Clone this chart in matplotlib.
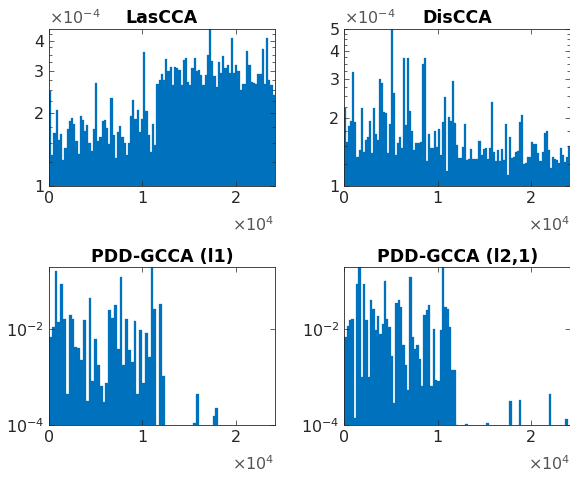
import numpy as np
import matplotlib
matplotlib.use("Agg")
import matplotlib.pyplot as plt
from matplotlib.ticker import FixedLocator, NullLocator, NullFormatter

# ---- data ----
titles = ["LasCCA", "DisCCA", "PDD-GCCA (l1)", "PDD-GCCA (l2,1)"]

# top panels in units of 1e-4
lascca = [2.48, 1.34, 1.65, 2.06, 1.55, 1.64, 1.28, 1.44, 1.72, 1.85, 1.92, 1.80, 1.53,
          1.36, 1.95, 1.88, 1.68, 1.79, 1.51, 1.39, 1.72, 2.68, 1.53, 1.60, 1.86, 1.88,
          1.73, 1.49, 2.31, 1.63, 1.30, 1.67, 1.77, 1.60,
          1.50, 1.34, 1.51, 1.95, 2.27, 1.89, 2.06, 1.67, 1.89, 3.59, 2.04, 1.63, 1.38,
          1.81, 1.48, 2.64, 2.75, 2.90, 2.75, 3.36, 2.98, 3.10, 2.62, 3.10, 3.08, 3.02,
          2.62, 3.33, 3.39, 2.70, 2.62, 3.08, 3.39,
          2.98, 3.03, 2.89, 2.62, 2.89, 3.49, 4.50, 3.28, 2.84, 2.58, 3.26, 2.93, 3.47,
          3.08, 3.18, 2.93, 4.10, 2.93, 3.18, 2.98, 2.50, 2.64, 2.64, 3.63, 3.18, 2.69,
          2.67, 2.64, 2.90, 2.90, 3.70, 2.64, 4.10, 2.75, 2.62, 2.38]

discca = [2.23, 1.57, 1.85, 1.94, 3.20, 1.93, 1.35, 1.44, 2.21, 1.42, 1.60, 1.65, 1.94,
          1.40, 2.21, 1.70, 1.60, 2.99, 2.86, 2.14, 2.10, 1.40, 1.88, 5.00, 2.58, 1.37,
          1.55, 1.65, 1.47, 3.70, 1.87, 3.70, 2.15, 1.75, 1.44, 1.55,
          1.55, 1.57, 3.48, 3.70, 1.29, 1.70, 1.47, 1.48, 1.75, 1.49, 1.79, 1.37, 1.93,
          2.49, 1.17, 2.03, 1.94, 2.93, 1.90, 1.52, 1.33, 1.33, 1.49, 1.88, 1.30, 1.32,
          1.46, 1.32, 1.32, 1.32, 1.59, 1.37, 1.46, 1.47, 1.32, 1.48, 2.35,
          1.41, 1.29, 1.44, 1.29, 1.46, 1.30, 1.88, 1.12, 1.65, 1.33, 1.35, 1.42, 1.43,
          1.93, 2.07, 1.25, 1.27, 1.35, 1.35, 1.56, 1.53, 1.53, 1.40, 1.29, 1.42, 1.71,
          1.75, 1.44, 1.20, 1.35, 1.32, 1.30, 1.27, 1.48, 1.37, 1.28, 1.35, 1.51]

# bottom panels, absolute values (0 = below axis floor)
pdd_l1 = ([0.0066, 0.011, 0.157, 0.0138, 0.087, 0.0156, 0.00044, 0.019, 0.0156, 0.0042,
           0.0039, 0.0022, 0.015, 0.00032, 0.043, 0.0008, 0.006, 0.0018, 0.00065, 0.0003,
           0.00073, 0.024, 0.017, 0.031, 0.0037, 0.12, 0.0018, 0.016, 0.0036, 0.002,
           0.0146, 0.00043, 0.0093, 0.00073, 0.008, 0.0026, 0.19, 0.026, 0, 0.032, 0.00104]
          + [0] * 10 + [1.1e-4, 4.3e-4] + [0] * 5 + [1.5e-4, 2.2e-4] + [0] * 20)

pdd_l21 = ([0.0068, 0.0113, 0.0155, 0.016, 1.4e-4, 0.087, 0.19, 0.001, 0.087, 0.015,
            0.001, 0.039, 0.026, 0.0093, 0.018, 0.0077, 0.0125, 0.098, 0.016, 0.011,
            0.0027, 0.00029, 0.034, 0.039, 0.029, 0.0046, 0.0018, 0.00053, 0.12, 0.0068,
            0.0037, 0.0046, 0.0024, 0.00065, 0.019, 0.025, 0.031, 0.00065, 0.0097, 0.00086,
            0.0008, 0.0093, 0.19, 0.028, 0.026, 0.011, 0.0014, 0.0014, 1.0e-4]
           + [0] * 3 + [1.02e-4] + [0] * 8 + [1.12e-4] + [0] * 9 + [3.2e-4] + [0] * 3
           + [3.3e-4] + [0] * 12 + [4.3e-4] + [0] * 6 + [1.3e-4] + [0])

series = [np.array(lascca) * 1e-4, np.array(discca) * 1e-4,
          np.array(pdd_l1, dtype=float), np.array(pdd_l21, dtype=float)]
ylims = [(1e-4, 4.48e-4), (1e-4, 5.0e-4), (1e-4, 0.19), (1e-4, 0.19)]

xmax = 24200
blue = "#0072BD"
txt = "#262626"

fig = plt.figure(figsize=(5.7, 4.79), dpi=100)
pos = [[0.086, 0.612, 0.396, 0.328],
       [0.604, 0.612, 0.396, 0.328],
       [0.086, 0.113, 0.396, 0.329],
       [0.604, 0.113, 0.396, 0.329]]

for i in range(4):
    ax = fig.add_axes(pos[i])
    vals = series[i]
    n = len(vals)
    w = xmax / n
    x = (np.arange(n) + 0.5) * w
    ax.set_yscale("log", nonpositive="clip")
    ax.bar(x, vals, width=w, color=blue, edgecolor=blue, linewidth=0.2)
    ax.set_xlim(0, xmax)
    ax.set_ylim(*ylims[i])
    ax.set_xticks([0, 10000, 20000])
    ax.set_xticklabels(["0", "1", "2"])
    # x multiplier drawn by hand, MATLAB puts it well below the tick labels
    ax.annotate(r"$\times10^{4}$", xy=(1.0, 0.0), xycoords="axes fraction",
                xytext=(0, -21), textcoords="offset points",
                ha="right", va="top", fontsize=11.5, color="#555555")

    if i < 2:
        majors = [1e-4, 2e-4, 3e-4, 4e-4] + ([5e-4] if i == 1 else [])
        ax.yaxis.set_major_locator(FixedLocator(majors))
        ax.set_yticklabels([f"{m * 1e4:g}" for m in majors])
        minors = [v * 1e-4 for v in np.arange(1.25, 5.0, 0.25)]
        ax.yaxis.set_minor_locator(FixedLocator(minors))
        ax.yaxis.set_minor_formatter(NullFormatter())
        ax.text(0.0, 1.01, r"$\times10^{-4}$", transform=ax.transAxes,
                ha="left", va="bottom", fontsize=11.5, color="#555555")
    else:
        ax.yaxis.set_major_locator(FixedLocator([1e-4, 1e-2]))
        ax.yaxis.set_minor_locator(NullLocator())

    ax.tick_params(which="both", direction="in", top=True, right=True,
                   labelsize=11.5, colors=txt, width=0.5)
    ax.tick_params(which="major", length=3.5)
    ax.tick_params(which="minor", length=2)
    for s in ax.spines.values():
        s.set_linewidth(0.6)
        s.set_color(txt)
    ax.set_title(titles[i], fontsize=12.5, fontweight="bold", pad=4)

fig.savefig("out.png", dpi=100)
